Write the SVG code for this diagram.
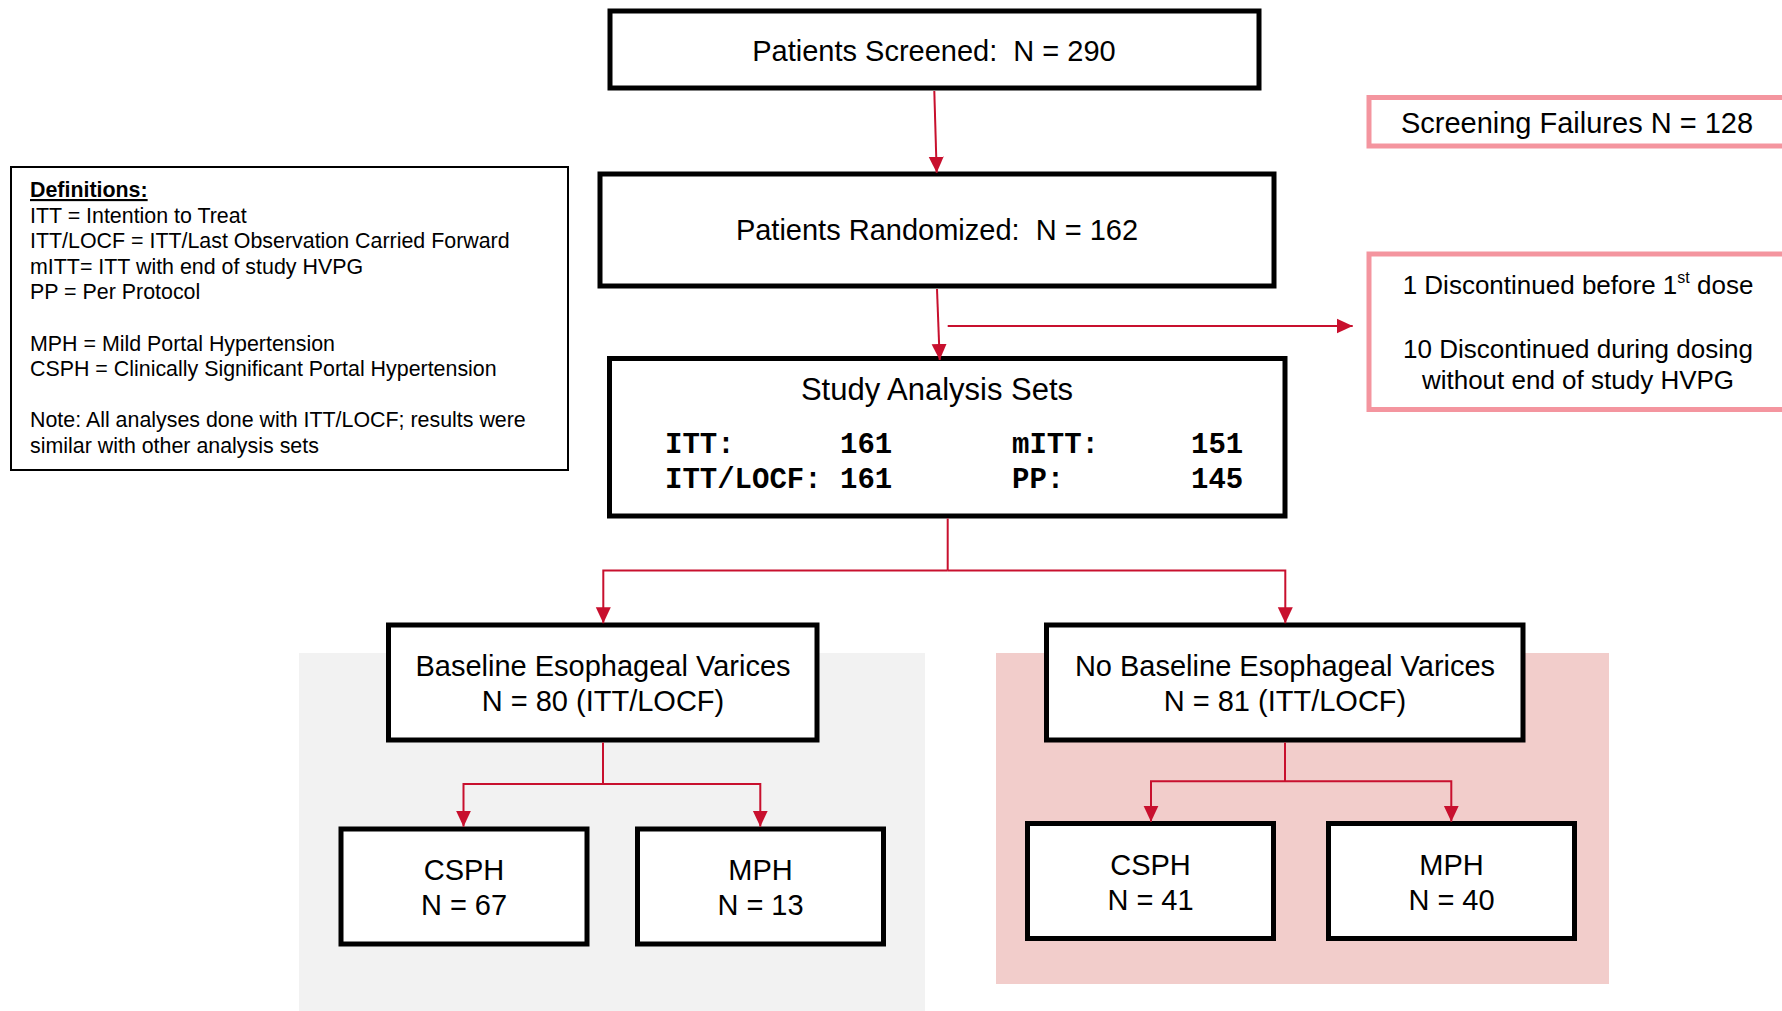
<svg xmlns="http://www.w3.org/2000/svg" width="1782" height="1011" viewBox="0 0 1782 1011">
<defs>
<style>
.box{fill:#fff;stroke:#000;stroke-width:5}
.pbox{fill:#fff;stroke:#F4959F;stroke-width:5}
.t{font-family:"Liberation Sans",Arial,sans-serif;font-size:29px;fill:#000;text-anchor:middle}
.s{font-size:26px}
.ttl{font-size:31px}
.d{font-family:"Liberation Sans",Arial,sans-serif;font-size:21.4px;fill:#000}
.m{font-family:"Liberation Mono","Courier New",monospace;font-size:29px;font-weight:bold;fill:#000}
.c{fill:none;stroke:#C8102E;stroke-width:2}
</style>
<marker id="ah" markerUnits="userSpaceOnUse" markerWidth="16" markerHeight="16" viewBox="0 0 16 16" refX="16" refY="8" orient="auto">
<path d="M0,0.5 L16,8 L0,15.5 z" fill="#C8102E"/>
</marker>
</defs>
<rect width="1782" height="1011" fill="#fff"/>
<g id="backgrounds">
<rect x="299" y="653" width="626" height="358" fill="#F2F2F2"/>
<rect x="996" y="653" width="613" height="331" fill="#F2CDCB"/>
</g>
<g id="definitions">
<rect x="11" y="167" width="557" height="303" fill="#fff" stroke="#000" stroke-width="2"/>
<text class="d" x="30" y="197" font-weight="bold" text-decoration="underline">Definitions:</text>
<text class="d" x="30" y="222.5">ITT = Intention to Treat</text>
<text class="d" x="30" y="248">ITT/LOCF = ITT/Last Observation Carried Forward</text>
<text class="d" x="30" y="273.5">mITT= ITT with end of study HVPG</text>
<text class="d" x="30" y="299">PP = Per Protocol</text>
<text class="d" x="30" y="351">MPH = Mild Portal Hypertension</text>
<text class="d" x="30" y="376">CSPH = Clinically Significant Portal Hypertension</text>
<text class="d" x="30" y="427">Note: All analyses done with ITT/LOCF; results were</text>
<text class="d" x="30" y="452.5">similar with other analysis sets</text>
</g>
<g id="screened">
<rect class="box" x="610" y="11" width="649" height="77"/>
<text class="t" x="934" y="61" xml:space="preserve">Patients Screened:  N = 290</text>
</g>
<g id="randomized">
<rect class="box" x="600" y="174" width="674" height="112"/>
<text class="t" x="937" y="240" xml:space="preserve">Patients Randomized:  N = 162</text>
</g>
<g id="screen-fail">
<rect class="pbox" x="1369" y="97.5" width="500" height="48.5"/>
<text class="t" x="1577" y="132.5">Screening Failures N = 128</text>
</g>
<g id="discontinued">
<rect class="pbox" x="1369" y="254" width="500" height="155.5"/>
<text class="t s" x="1578" y="294">1 Discontinued before 1<tspan style="font-size:16px" dy="-11">st</tspan><tspan dy="11"> dose</tspan></text>
<text class="t s" x="1578" y="358">10 Discontinued during dosing</text>
<text class="t s" x="1578" y="389">without end of study HVPG</text>
</g>
<g id="analysis-sets">
<rect class="box" x="609.5" y="358.5" width="675.5" height="157.5"/>
<text class="t ttl" x="937" y="400">Study Analysis Sets</text>
<text class="m" x="665" y="453.3">ITT:</text>
<text class="m" x="840" y="453.3">161</text>
<text class="m" x="665" y="488.3">ITT/LOCF:</text>
<text class="m" x="840" y="488.3">161</text>
<text class="m" x="1012" y="453.3">mITT:</text>
<text class="m" x="1191" y="453.3">151</text>
<text class="m" x="1012" y="488.3">PP:</text>
<text class="m" x="1191" y="488.3">145</text>
</g>
<g id="varices">
<rect class="box" x="388.5" y="625" width="428.5" height="115"/>
<text class="t" x="603" y="675.7">Baseline Esophageal Varices</text>
<text class="t" x="603" y="710.7">N = 80 (ITT/LOCF)</text>
</g>
<g id="no-varices">
<rect class="box" x="1046.5" y="625" width="476.5" height="115"/>
<text class="t" x="1285" y="675.7">No Baseline Esophageal Varices</text>
<text class="t" x="1285" y="710.7">N = 81 (ITT/LOCF)</text>
</g>
<g id="csph-v">
<rect class="box" x="341" y="829" width="246" height="115"/>
<text class="t" x="464" y="880">CSPH</text>
<text class="t" x="464" y="915">N = 67</text>
</g>
<g id="mph-v">
<rect class="box" x="637.5" y="829" width="246" height="115"/>
<text class="t" x="760.5" y="880">MPH</text>
<text class="t" x="760.5" y="915">N = 13</text>
</g>
<g id="csph-nv">
<rect class="box" x="1027.5" y="823.5" width="246" height="115"/>
<text class="t" x="1150.5" y="874.5">CSPH</text>
<text class="t" x="1150.5" y="909.5">N = 41</text>
</g>
<g id="mph-nv">
<rect class="box" x="1328.5" y="823.5" width="246" height="115"/>
<text class="t" x="1451.5" y="874.5">MPH</text>
<text class="t" x="1451.5" y="909.5">N = 40</text>
</g>
<g id="connectors">
<path class="c" d="M934.3,91 L936.7,172.7" marker-end="url(#ah)"/>
<path class="c" d="M937,289 L939.7,360" marker-end="url(#ah)"/>
<path class="c" d="M947.7,326 H1352.7" marker-end="url(#ah)"/>
<path class="c" d="M947.7,518.5 V570.5"/>
<path class="c" d="M947.7,570.5 H603.3 V623.3" marker-end="url(#ah)"/>
<path class="c" d="M947.7,570.5 H1285.3 V623.3" marker-end="url(#ah)"/>
<path class="c" d="M603,742.5 V784"/>
<path class="c" d="M603,784 H463.5 V826.7" marker-end="url(#ah)"/>
<path class="c" d="M603,784 H760.3 V826.7" marker-end="url(#ah)"/>
<path class="c" d="M1285,742.5 V781.3"/>
<path class="c" d="M1285,781.3 H1151 V821.7" marker-end="url(#ah)"/>
<path class="c" d="M1285,781.3 H1451.3 V821.7" marker-end="url(#ah)"/>
</g>
</svg>
